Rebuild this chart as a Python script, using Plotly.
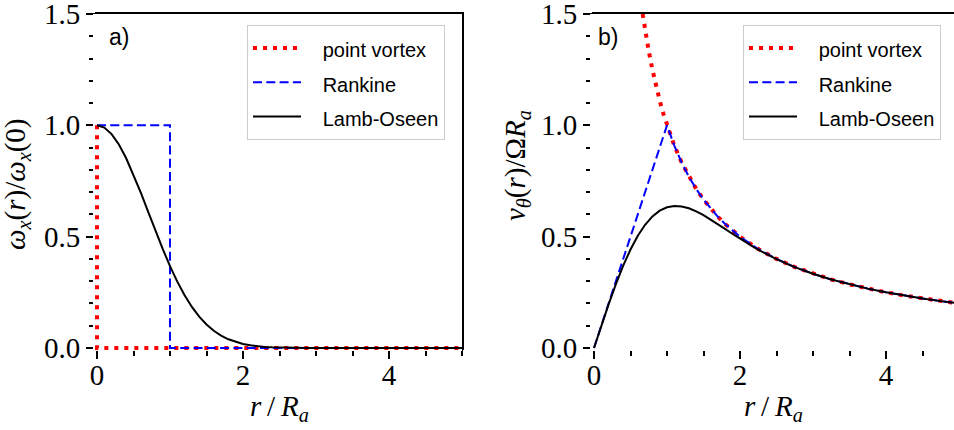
import plotly.graph_objects as go

# ---------------- data ----------------
# panel a) vorticity profiles
r_pv_w = [0.0, 0.0, 5.0]
w_pv = [1.0, 0.0, 0.0]

r_rk_w = [0.0, 1.0, 1.0, 5.0]
w_rk = [1.0, 1.0, 0.0, 0.0]

r_lo_w = [0.0, 0.1, 0.2, 0.3, 0.4, 0.5, 0.6, 0.7, 0.8, 0.9, 1.0, 1.1, 1.2, 1.3, 1.4,
          1.5, 1.6, 1.7, 1.8, 1.9, 2.0, 2.1, 2.2, 2.3, 2.4, 2.5, 2.6, 2.7, 2.8, 2.9,
          3.0, 3.5, 4.0, 4.5, 5.0]
w_lo = [1.0, 0.99005, 0.96079, 0.91393, 0.85214, 0.77880, 0.69768, 0.61263, 0.52729,
        0.44486, 0.36788, 0.29820, 0.23693, 0.18452, 0.14086, 0.10540, 0.07730,
        0.05558, 0.03916, 0.02705, 0.01832, 0.01216, 0.00791, 0.00504, 0.00315,
        0.00193, 0.00116, 0.00068, 0.00039, 0.00022, 0.00012, 0.0, 0.0, 0.0, 0.0]

# panel b) azimuthal velocity profiles
r_pv_v = [0.6667, 0.7, 0.75, 0.8, 0.85, 0.9, 0.95, 1.0, 1.1, 1.2, 1.3, 1.4, 1.5, 1.6,
          1.7, 1.8, 1.9, 2.0, 2.25, 2.5, 2.75, 3.0, 3.25, 3.5, 3.75, 4.0, 4.25, 4.5,
          4.75, 5.0]
v_pv = [1.5, 1.4286, 1.3333, 1.25, 1.1765, 1.1111, 1.0526, 1.0, 0.9091, 0.8333,
        0.7692, 0.7143, 0.6667, 0.625, 0.5882, 0.5556, 0.5263, 0.5, 0.4444, 0.4,
        0.3636, 0.3333, 0.3077, 0.2857, 0.2667, 0.25, 0.2353, 0.2222, 0.2105, 0.2]

r_rk_v = [0.0, 1.0, 1.1, 1.2, 1.3, 1.4, 1.5, 1.6, 1.7, 1.8, 1.9, 2.0, 2.25, 2.5, 2.75,
          3.0, 3.25, 3.5, 3.75, 4.0, 4.25, 4.5, 4.75, 5.0]
v_rk = [0.0, 1.0, 0.9091, 0.8333, 0.7692, 0.7143, 0.6667, 0.625, 0.5882, 0.5556,
        0.5263, 0.5, 0.4444, 0.4, 0.3636, 0.3333, 0.3077, 0.2857, 0.2667, 0.25,
        0.2353, 0.2222, 0.2105, 0.2]

r_lo_v = [0.0, 0.1, 0.2, 0.3, 0.4, 0.5, 0.6, 0.7, 0.8, 0.9, 1.0, 1.1, 1.2, 1.3, 1.4,
          1.5, 1.6, 1.7, 1.8, 1.9, 2.0, 2.1, 2.2, 2.3, 2.4, 2.5, 2.75, 3.0, 3.25, 3.5,
          3.75, 4.0, 4.25, 4.5, 4.75, 5.0]
v_lo = [0.0, 0.0995, 0.1961, 0.2869, 0.3697, 0.4424, 0.5039, 0.5534, 0.5909, 0.6168,
        0.6321, 0.6380, 0.6359, 0.6273, 0.6137, 0.5964, 0.5767, 0.5555, 0.5338,
        0.5121, 0.4908, 0.4704, 0.4510, 0.4326, 0.4154, 0.3992, 0.3634, 0.3333,
        0.3077, 0.2857, 0.2667, 0.25, 0.2353, 0.2222, 0.2105, 0.2]

names = ["point vortex", "Rankine", "Lamb-Oseen"]
x_ticks = [0, 2, 4]
y_ticks = [0.0, 0.5, 1.0, 1.5]
y_tick_text = ["0.0", "0.5", "1.0", "1.5"]

# ---------------- geometry / styles ----------------
W, H = 954, 430
MT, MB = 12, 79
PH = H - MT - MB            # plot-area height in px
PXU = 73.0                  # px per x unit
PYU = 334 / 1.5             # px per y unit

def fy(px):                 # pixel row -> paper fraction
    return 1 - (px - MT) / PH

RED = "#ff0000"
BLUE = "#0000ff"
BLACK = "#000000"
dot_style = dict(color=RED, width=4, dash="4px,6px")
dash_style = dict(color=BLUE, width=2, dash="9px,4.3px")
solid_style = dict(color=BLACK, width=2)

SERIF = "Liberation Serif"
SANS = "Liberation Sans"

def lbl(t):
    return '<span style="font-size:20px">&nbsp;&nbsp;&nbsp;' + t + '</span>'

fig = go.Figure()

# empty traces so that the framed (visible) axes get drawn
for xa, ya in [("x", "y"), ("x2", "y2")]:
    fig.add_trace(go.Scatter(x=[], y=[], mode="lines", showlegend=False,
                             xaxis=xa, yaxis=ya, hoverinfo="skip"))

# data traces live on hidden helper axes (x3/y3, x4/y4) whose domain reaches a few px
# past the visible frame, so lines lying on r=0 or on 0 are not cut in half by clipping
panels = [
    ("x3", "y3", "legend", [(r_pv_w, w_pv), (r_rk_w, w_rk), (r_lo_w, w_lo)]),
    ("x4", "y4", "legend2", [(r_pv_v, v_pv), (r_rk_v, v_rk), (r_lo_v, v_lo)]),
]
for xa, ya, lg, series in panels:
    for (xs, ys), nm, st in zip(series, names, [dot_style, dash_style, solid_style]):
        fig.add_trace(go.Scatter(x=xs, y=ys, mode="lines", name=lbl(nm), line=st,
                                 xaxis=xa, yaxis=ya, legend=lg, hoverinfo="skip"))

tick_font = dict(family=SERIF, size=29, color="black")
axis_common = dict(
    showgrid=False, zeroline=False, showline=True, linecolor="black", linewidth=2,
    mirror=True, ticks="outside", ticklen=9, tickwidth=2, tickcolor="black",
    tickfont=tick_font, automargin=False, ticklabeloverflow="allow",
)
x_minor = dict(dtick=0.5, tick0=0, ticks="outside", ticklen=6, tickwidth=2,
               tickcolor="black")
y_minor = dict(dtick=0.1, tick0=0, ticks="outside", ticklen=6, tickwidth=2,
               tickcolor="black")

ya_dom = [fy(348), fy(14)]
a_dom = [97 / W, 462 / W]
b_dom = [594 / W, 1.0]
b_xmax = (W - 594) / PXU
hid = dict(visible=False, showgrid=False, zeroline=False, automargin=False)
ext_x = 4 / PXU
ext_y = 3 / PYU

legend_common = dict(bgcolor="white", bordercolor="#cccccc", borderwidth=1,
                     font=dict(family=SANS, size=24, color="black"),
                     xref="paper", yref="paper", xanchor="left", yanchor="top",
                     y=fy(25), itemwidth=48, tracegroupgap=0)

fig.update_layout(
    template="none",
    font=dict(family=SERIF, color="black"),
    width=W, height=H,
    margin=dict(l=0, r=0, t=MT, b=MB, pad=0),
    plot_bgcolor="white", paper_bgcolor="white",
    xaxis=dict(axis_common, domain=a_dom, range=[0, 5], anchor="y",
               tickvals=x_ticks, ticktext=[str(v) for v in x_ticks], minor=x_minor,
               ticklabelstandoff=-9),
    yaxis=dict(axis_common, domain=ya_dom, range=[0, 1.5], anchor="x",
               tickvals=y_ticks, ticktext=y_tick_text, minor=y_minor),
    xaxis2=dict(axis_common, domain=b_dom, range=[0, b_xmax], anchor="y2",
                tickvals=x_ticks, ticktext=[str(v) for v in x_ticks], minor=x_minor,
                ticklabelstandoff=-9),
    yaxis2=dict(axis_common, domain=ya_dom, range=[0, 1.5], anchor="x2",
                tickvals=y_ticks, ticktext=y_tick_text, minor=y_minor),
    xaxis3=dict(hid, domain=[93 / W, 462 / W], range=[-ext_x, 5], anchor="y3"),
    yaxis3=dict(hid, domain=[0, ya_dom[1]], range=[-ext_y, 1.5], anchor="x3"),
    xaxis4=dict(hid, domain=[590 / W, 1.0], range=[-ext_x, b_xmax], anchor="y4"),
    yaxis4=dict(hid, domain=[0, ya_dom[1]], range=[-ext_y, 1.5], anchor="x4"),
    legend=dict(legend_common, x=247 / W),
    legend2=dict(legend_common, x=743 / W),
    showlegend=True,
)

math_font = dict(family=SERIF, size=29, color="black")
ts = "\u2009"
xlab = "<i>r</i>" + ts + "/" + ts + "<i>R</i><sub><i>a</i></sub>"
annots = [
    dict(text="a)", x=119 / W, y=fy(37), font=dict(family=SANS, size=23, color="black")),
    dict(text="b)", x=608 / W, y=fy(37), font=dict(family=SANS, size=23, color="black")),
    dict(text=xlab, x=279 / W, y=fy(408), font=math_font),
    dict(text=xlab, x=773 / W, y=fy(408), font=math_font),
    dict(text="<i>ω</i><sub><i>x</i></sub>(<i>r</i>)/<i>ω</i><sub><i>x</i></sub>(0)",
         x=17 / W, y=fy(184), textangle=-90, font=math_font),
    dict(text="<i>v</i><sub><i>θ</i></sub>(<i>r</i>)/Ω<i>R</i><sub><i>a</i></sub>",
         x=517 / W, y=fy(166), textangle=-90, font=math_font),
]
for a in annots:
    fig.add_annotation(xref="paper", yref="paper", showarrow=False,
                       xanchor="center", yanchor="middle", **a)

fig.write_html("out.html")
